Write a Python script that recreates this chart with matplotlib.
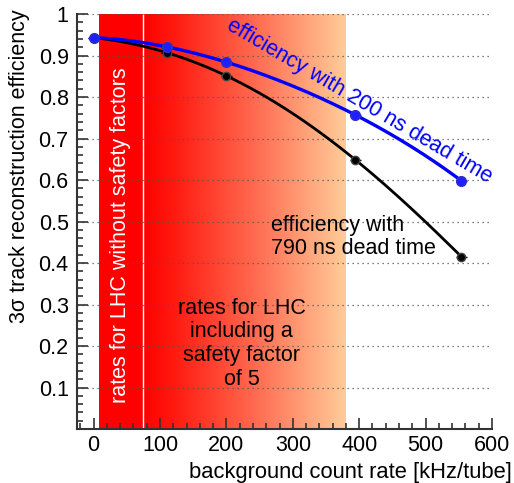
import matplotlib
matplotlib.use('Agg')
import matplotlib.pyplot as plt
import numpy as np
from matplotlib.colors import LinearSegmentedColormap
from matplotlib.ticker import MultipleLocator

plt.rcParams['font.family'] = ['Liberation Sans', 'DejaVu Sans']

# measured points
rate = [0, 110, 200, 394, 554]
eff_200ns = [0.943, 0.921, 0.884, 0.757, 0.598]
eff_790ns = [0.943, 0.907, 0.851, 0.649, 0.415]
rate_err = [8, 8, 8, 8, 8]

# LHC rate bands [kHz/tube]
lhc_nominal = (8, 75)
lhc_safety = (75, 380)

FS = 15.5

fig = plt.figure(figsize=(5.14, 4.83), dpi=100)
ax = fig.add_axes([0.1498, 0.1118, 0.8074, 0.8592])

ax.set_xlim(-25, 600)
ax.set_ylim(0, 1)

# solid red band (no safety factor)
ax.axvspan(lhc_nominal[0], lhc_nominal[1], color='#ff0000', lw=0, zorder=0)

# gradient band (safety factor 5)
cmap = LinearSegmentedColormap.from_list(
    'band', [(0.0, '#ff0000'), (0.15, '#ff1a10'), (0.55, '#ff6a50'), (1.0, '#ffcc99')])
grad = np.linspace(0, 1, 256).reshape(1, -1)
ax.imshow(grad, cmap=cmap, aspect='auto', extent=(lhc_safety[0], lhc_safety[1], 0, 1),
          zorder=0, interpolation='bilinear')
ax.axvline(lhc_nominal[1], color='white', lw=1, zorder=1)

# dotted horizontal grid
for yv in np.arange(0.1, 1.01, 0.1):
    ax.axhline(yv, color='#555555', lw=0.9, ls=(0, (1, 3)), zorder=1)

# smooth curves through the points
xs = np.linspace(rate[0], rate[-1], 200)
c200 = np.polyfit(rate, eff_200ns, 4)
c790 = np.polyfit(rate, eff_790ns, 4)
ax.plot(xs, np.polyval(c790, xs), color='black', lw=2, zorder=3)
ax.plot(xs, np.polyval(c200, xs), color='#0000ff', lw=2.4, zorder=4)

ax.errorbar(rate, eff_790ns, xerr=rate_err, fmt='o', color='black', ms=6,
            mfc='black', mec='#444444', elinewidth=1, capsize=0, zorder=5)
ax.errorbar(rate, eff_200ns, xerr=rate_err, fmt='o', color='#0000ff', ms=7,
            mfc='#2020ff', mec='#3030c0', elinewidth=1, capsize=0, zorder=6)

# annotations
ax.text(400, 0.79, 'efficiency with 200 ns dead time', color='#0000ff', fontsize=FS,
        rotation=-30.5, ha='center', va='center', rotation_mode='anchor', zorder=7)
ax.text(267, 0.462, 'efficiency with\n790 ns dead time', color='black', fontsize=FS,
        ha='left', va='center', linespacing=1.15, zorder=7)
ax.text(223, 0.205, 'rates for LHC\nincluding a\nsafety factor\nof 5', color='black',
        fontsize=FS, ha='center', va='center', linespacing=1.18, zorder=7)
ax.text(40.5, 0.467, 'rates for LHC without safety factors', color='white', fontsize=FS,
        rotation=90, ha='center', va='center', zorder=7)

# axes styling
for side in ['top', 'right']:
    ax.spines[side].set_visible(False)
ax.spines['left'].set_color('#333333')
ax.spines['bottom'].set_color('#333333')
ax.spines['left'].set_linewidth(1.5)
ax.spines['bottom'].set_linewidth(1.5)

ax.set_xticks([0, 100, 200, 300, 400, 500, 600])
ax.xaxis.set_minor_locator(MultipleLocator(20))
ax.set_yticks([0.1, 0.2, 0.3, 0.4, 0.5, 0.6, 0.7, 0.8, 0.9, 1.0])
ax.set_yticklabels(['0.1', '0.2', '0.3', '0.4', '0.5', '0.6', '0.7', '0.8', '0.9', '1'])
ax.yaxis.set_minor_locator(MultipleLocator(0.02))
ax.tick_params(which='both', direction='in', labelsize=FS, color='#333333', width=1.2)
ax.tick_params(which='major', length=8)
ax.tick_params(which='minor', length=4.5)
ax.tick_params(axis='x', pad=4)
ax.tick_params(axis='y', pad=6)

fig.text(20 / 514, 1 - 166 / 483, '3σ track reconstruction efficiency', fontsize=FS,
         rotation=90, ha='center', va='center')
fig.text(512 / 514, 1 - 478 / 483, 'background count rate [kHz/tube]', fontsize=15.8,
         ha='right', va='baseline')

fig.savefig('out.png', dpi=100)
